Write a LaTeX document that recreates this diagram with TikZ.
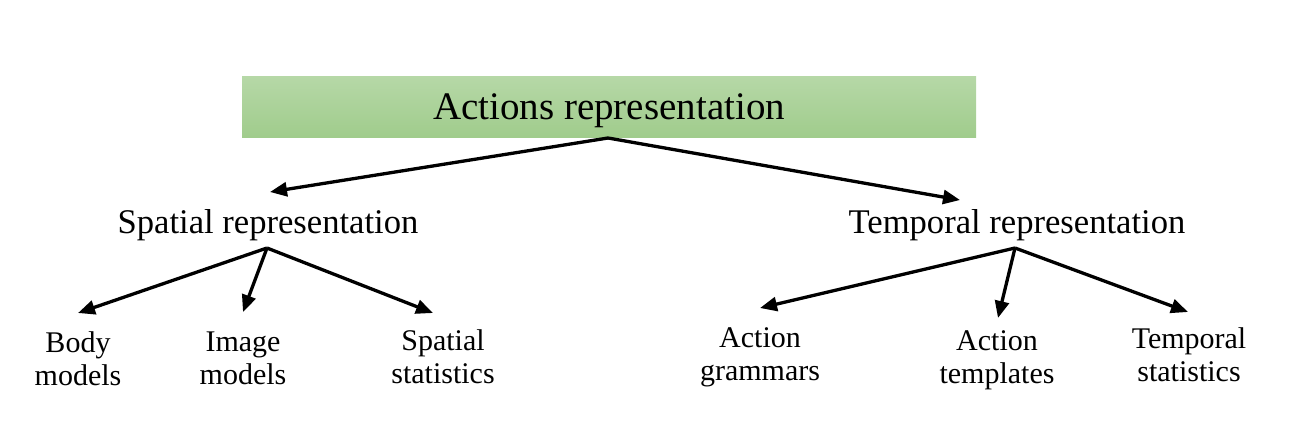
\documentclass[tikz,border=0pt]{standalone}
\usepackage{fontspec}
\setmainfont{Liberation Serif}
\usetikzlibrary{arrows.meta}
\definecolor{gtop}{RGB}{182,216,167}
\definecolor{gbot}{RGB}{160,204,140}
\tikzset{
  conn/.style={line width=3.3pt, -{Triangle[length=17pt,width=14pt]}},
  rootbox/.style={draw=none, top color=gtop, bottom color=gbot, minimum width=734pt, minimum height=61pt, inner sep=0pt},
  midlbl/.style={anchor=base, inner sep=0pt, font=\fontsize{34.6}{40}\selectfont},
  leaflbl/.style={anchor=base, inner sep=0pt, align=center, font=\fontsize{30}{33}\selectfont},
}
\begin{document}
\begin{tikzpicture}[x=1pt,y=-1pt]
\useasboundingbox (0,0) rectangle (1304,423);
% root
\node[rootbox] (root) at (609,106.5) {};
\node[anchor=base, inner sep=0pt, font=\fontsize{39}{45}\selectfont] (roottxt) at (609,119) {Actions representation};
% mid level
\node[midlbl] (sp) at (268,233) {Spatial representation};
\node[midlbl] (tp) at (1017,233) {Temporal representation};
% leaves (anchor = baseline of the last line)
\node[leaflbl] (body) at (78,385) {Body\\models};
\node[leaflbl] (img) at (243,384) {Image\\models};
\node[leaflbl] (sst) at (443,383) {Spatial\\statistics};
\node[leaflbl] (gram) at (760,380) {Action\\grammars};
\node[leaflbl] (tmpl) at (997,383) {Action\\templates};
\node[leaflbl] (tst) at (1189,381) {Temporal\\statistics};
% connector points
\coordinate (rootout) at (608,138);
\coordinate (spin) at (270,192);
\coordinate (tpin) at (960,200);
\coordinate (spout) at (267,248);
\coordinate (tpout) at (1015,248);
\coordinate (bodyin) at (78,313);
\coordinate (imgin) at (243,312);
\coordinate (sstin) at (433,313);
\coordinate (gramin) at (760,308);
\coordinate (tmplin) at (998,318);
\coordinate (tstin) at (1188,312);
% connectors
\draw[conn] (rootout) -- (spin);
\draw[conn] (rootout) -- (tpin);
\draw[conn] (spout) -- (bodyin);
\draw[conn] (spout) -- (imgin);
\draw[conn] (spout) -- (sstin);
\draw[conn] (tpout) -- (gramin);
\draw[conn] (tpout) -- (tmplin);
\draw[conn] (tpout) -- (tstin);
\end{tikzpicture}
\end{document}
